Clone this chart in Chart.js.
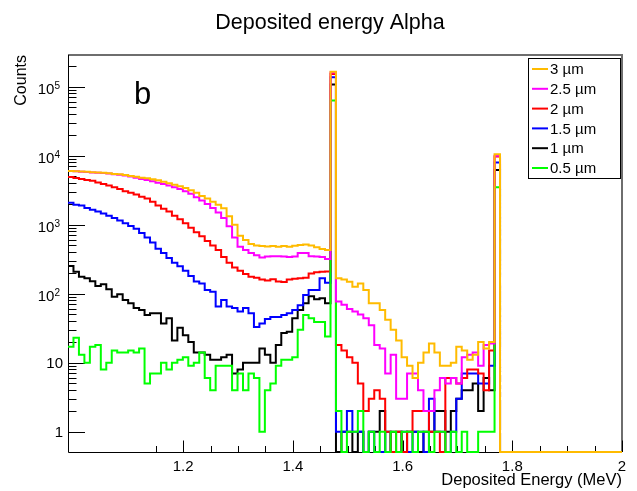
<!DOCTYPE html>
<html>
<head>
<meta charset="utf-8">
<script src="https://cdn.jsdelivr.net/npm/chart.js@4.4.1/dist/chart.umd.min.js"></script>
<style>
html,body{margin:0;padding:0;background:#fff;}
#c{display:block;}
</style>
</head>
<body>
<canvas id="c" width="637" height="491"></canvas>
<script>
// ---------------- data ----------------
const binLow = 0.99;
const binWidth = 0.00997;
const xMin = 0.99;
const xMax = 2.0;
const yMin = 0.508;
const yMax = 2.88e5;

const seriesLabels = ['3 \u00b5m', '2.5 \u00b5m', '2 \u00b5m', '1.5 \u00b5m', '1 \u00b5m', '0.5 \u00b5m'];
const seriesColors = ['#ffbb00', '#ff00ff', '#ff0000', '#0000ff', '#000000', '#00ff00'];
const drawOrder    = [0, 1, 3, 4, 5, 2];

// counts per bin (101 bins starting at 0.99 MeV)
const counts3um = [
 6000,5950,5900,5850,5750,5700,5650,5550,5450,5400,
 5250,5100,4950,4800,4700,4550,4400,4200,4000,3800,
 3600,3400,3150,2900,2600,2400,2150,1950,1730,1330,
 1000,690,600,525,500,490,485,490,480,490,
 480,495,510,515,500,470,445,430,165000,167,
 160,149,126,141,113,73,73,58,42,30,
 21,12,9,6,10,14,19,14,9,9,
 10,17,15,11,13,20,16,20,10500,0,
 0,0,0,0,0,0,0,0,0,0,
 0,0,0,0,0,0,0,0,0,0,0];
const counts2p5um = [
 6000,5950,5850,5800,5700,5650,5600,5500,5400,5300,
 5150,5000,4800,4600,4450,4250,4050,3900,3700,3500,
 3300,3050,2800,2500,2250,2000,1750,1500,1250,950,
 650,480,430,390,360,335,345,350,350,345,
 340,345,390,390,350,345,340,318,160000,77,
 69,60,55,50,44,35,18,16,7,13,
 3,3,7,7,4,2,2,4,6,5,
 6,5,12,13,14,9,18,19,10000,0,
 0,0,0,0,0,0,0,0,0,0,
 0,0,0,0,0,0,0,0,0,0,0];
const counts2um = [
 4900,4750,4600,4450,4350,4100,3900,3700,3500,3300,
 3050,2900,2750,2550,2400,2150,1900,1700,1550,1350,
 1200,1050,900,780,680,580,500,430,340,280,
 240,215,193,176,170,160,155,162,150,148,
 160,165,167,170,197,205,208,210,153000,18,
 15,12,10,5,2,3,4,3,1,0,
 1,0,1,2,2,2,1,1,0,6,
 6,5,6,8,8,7,4,15,9700,0,
 0,0,0,0,0,0,0,0,0,0,
 0,0,0,0,0,0,0,0,0,0,0];
const counts1p5um = [
 2080,1950,1900,1750,1650,1550,1450,1350,1250,1150,
 1050,960,870,760,650,550,450,390,330,280,
 250,215,180,150,141,113,107,65,81,65,
 62,55,62,52,33,37,43,46,46,49,
 52,58,68,96,113,113,167,144,137000,1,
 1,2,1,1,0,1,0,0,1,0,
 0,1,0,1,1,0,3,1,1,0,
 1,3,7,7,7,5,5,9,8000,0,
 0,0,0,0,0,0,0,0,0,0,
 0,0,0,0,0,0,0,0,0,0,0];
const counts1um = [
 252,208,176,167,152,129,137,116,90,98,
 81,73,62,58,49,52,52,37,44,21,
 32,25,20,14,14,13,11,11,12,13,
 7,8,10,10,10,16,13,10,18,27,
 28,44,58,73,92,83,86,73,108000,0,
 1,1,0,1,0,1,1,2,0,1,
 1,0,1,1,0,1,1,2,2,1,
 2,3,4,4,5,2,6,4,6200,0,
 0,0,0,0,0,0,0,0,0,0,
 0,0,0,0,0,0,0,0,0,0,0];
const counts0p5um = [
 17,23,13,10,17,18,8,10,15,14,
 14,15,14,16,5,7,7,10,8,10,
 11,12,9,10,14,6,4,9,9,9,
 4,7,4,7,6,1,4,5,9,11,
 11,12,30,49,44,39,39,24,63000,2,
 0,1,1,2,0,1,0,1,0,1,
 0,1,1,0,1,1,0,1,1,0,
 1,0,1,0,0,1,1,1,3500,0,
 0,0,0,0,0,0,0,0,0,0,
 0,0,0,0,0,0,0,0,0,0,0];

const seriesCounts = [counts3um, counts2p5um, counts2um, counts1p5um, counts1um, counts0p5um];

const xMajorTicks = [1.2, 1.4, 1.6, 1.8, 2.0];
const xMajorLabels = ['1.2', '1.4', '1.6', '1.8', '2'];
const yMajorTicks = [1, 10, 100, 1000, 10000, 100000];
const yMajorBase = ['1', '10', '10', '10', '10', '10'];
const yMajorExp  = ['', '', '2', '3', '4', '5'];

const titleText = 'Deposited energy Alpha';
const xTitle = 'Deposited Energy (MeV)';
const yTitle = 'Counts';
const panelLabel = 'b';

// --------------- build step points ---------------
function stepPoints(counts) {
  const pts = [];
  for (let i = 0; i < counts.length; i++) {
    const v = counts[i] > 0 ? counts[i] : yMin;
    pts.push({ x: binLow + i * binWidth, y: v });
  }
  const last = counts[counts.length - 1] > 0 ? counts[counts.length - 1] : yMin;
  pts.push({ x: xMax, y: last });
  return pts;
}

const datasets = seriesCounts.map((c, i) => ({
  label: seriesLabels[i],
  data: stepPoints(c),
  borderColor: seriesColors[i],
  backgroundColor: seriesColors[i],
  borderWidth: 2,
  pointRadius: 0,
  fill: false,
  stepped: true,
  tension: 0,
  order: drawOrder[i],
  clip: false
}));

const FONT = '"Liberation Sans", Arial, Helvetica, sans-serif';

const rootStyle = {
  id: 'rootStyle',
  beforeDatasetsDraw(chart) {
    const { ctx, chartArea: a, scales } = chart;
    const xs = scales.x, ys = scales.y;
    ctx.save();
    // frame top/right (grey)
    ctx.strokeStyle = '#6e6e6e';
    ctx.lineWidth = 2;
    ctx.beginPath();
    ctx.moveTo(a.left, a.top);
    ctx.lineTo(a.right, a.top);
    ctx.lineTo(a.right, a.bottom);
    ctx.stroke();
    // axes
    ctx.strokeStyle = '#000';
    ctx.lineWidth = 1;
    ctx.beginPath();
    ctx.moveTo(a.left + 0.5, a.top);
    ctx.lineTo(a.left + 0.5, a.bottom + 0.5);
    ctx.lineTo(a.right, a.bottom + 0.5);
    ctx.stroke();
    // y ticks
    ctx.beginPath();
    for (let d = 0; d <= 5; d++) {
      for (let m = 1; m <= 9; m++) {
        const v = m * Math.pow(10, d);
        if (v > yMax) continue;
        const py = Math.round(ys.getPixelForValue(v)) + 0.5;
        const len = m === 1 ? 17 : 8.5;
        ctx.moveTo(a.left, py);
        ctx.lineTo(a.left + len, py);
      }
    }
    // x ticks
    for (let k = 0; k <= 17; k++) {
      const v = 1.15 + k * 0.05;
      const px = Math.round(xs.getPixelForValue(v)) + 0.5;
      const major = k % 4 === 1;
      const len = major ? 11.5 : 6;
      ctx.moveTo(px, a.bottom);
      ctx.lineTo(px, a.bottom - len);
    }
    ctx.stroke();
    ctx.restore();
  },
  afterDatasetsDraw(chart) {
    const { ctx, chartArea: a, scales } = chart;
    const xs = scales.x, ys = scales.y;
    ctx.save();
    ctx.fillStyle = '#000';
    // x tick labels
    ctx.font = '15px ' + FONT;
    ctx.textAlign = 'center';
    ctx.textBaseline = 'alphabetic';
    xMajorTicks.forEach((v, i) => {
      ctx.fillText(xMajorLabels[i], xs.getPixelForValue(v), 471);
    });
    // y tick labels
    yMajorTicks.forEach((v, i) => {
      const py = ys.getPixelForValue(v);
      const base = yMajorBase[i], ex = yMajorExp[i];
      if (!ex) {
        ctx.font = '15px ' + FONT;
        ctx.textAlign = 'right';
        ctx.fillText(base, 63, py + 5.5);
      } else {
        ctx.font = '10px ' + FONT;
        const ew = ctx.measureText(ex).width;
        ctx.textAlign = 'right';
        ctx.fillText(ex, 60, py + 2.5);
        ctx.font = '15px ' + FONT;
        ctx.fillText(base, 60 - ew, py + 7.5);
      }
    });
    // axis titles
    ctx.font = '16.5px ' + FONT;
    ctx.textAlign = 'right';
    ctx.fillText(xTitle, a.right, 485);
    ctx.save();
    ctx.font = '16px ' + FONT;
    ctx.translate(26, a.top);
    ctx.rotate(-Math.PI / 2);
    ctx.textAlign = 'right';
    ctx.fillText(yTitle, 0, 0);
    ctx.restore();
    // title
    ctx.font = '21.5px ' + FONT;
    ctx.textAlign = 'center';
    ctx.fillText(titleText, 330, 29);
    // panel label
    ctx.font = '31px ' + FONT;
    ctx.textAlign = 'left';
    ctx.fillText(panelLabel, 134, 104);
    // legend
    const lx = 528.5, ly = 58.5, lw = 92, lh = 120;
    ctx.fillStyle = '#fff';
    ctx.fillRect(lx, ly, lw, lh);
    ctx.strokeStyle = '#000';
    ctx.lineWidth = 1;
    ctx.strokeRect(lx, ly, lw, lh);
    ctx.font = '15px ' + FONT;
    ctx.textAlign = 'left';
    ctx.textBaseline = 'middle';
    seriesLabels.forEach((lab, i) => {
      const ry = 69 + i * 19.8;
      ctx.strokeStyle = seriesColors[i];
      ctx.lineWidth = 2;
      ctx.beginPath();
      ctx.moveTo(532, ry);
      ctx.lineTo(548, ry);
      ctx.stroke();
      ctx.fillStyle = '#000';
      ctx.fillText(lab, 550, ry + 1);
    });
    ctx.restore();
  }
};

new Chart(document.getElementById('c'), {
  type: 'line',
  data: { datasets },
  options: {
    responsive: false,
    animation: false,
    devicePixelRatio: 1,
    layout: { padding: { left: 68, top: 55, right: 15, bottom: 39 } },
    scales: {
      x: { type: 'linear', min: xMin, max: xMax, display: false },
      y: { type: 'logarithmic', min: yMin, max: yMax, display: false }
    },
    plugins: {
      legend: { display: false },
      title: { display: false },
      tooltip: { enabled: false }
    }
  },
  plugins: [rootStyle]
});
</script>
</body>
</html>
